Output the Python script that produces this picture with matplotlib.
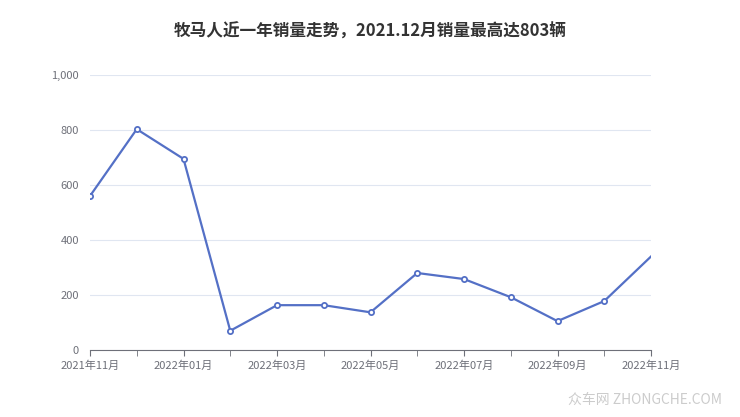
import matplotlib
matplotlib.use("Agg")
import matplotlib.pyplot as plt

plt.rcParams['font.family'] = ['Noto Sans CJK SC', 'DejaVu Sans']

months = ["2021年11月", "2021年12月", "2022年01月", "2022年02月", "2022年03月", "2022年04月",
          "2022年05月", "2022年06月", "2022年07月", "2022年08月", "2022年09月", "2022年10月", "2022年11月"]
sales = [560, 803, 695, 70, 163, 163, 137, 280, 258, 192, 105, 178, 340]

fig = plt.figure(figsize=(7.4, 4.17), dpi=100)
ax = fig.add_axes([90/740, 1-350/417, 561/740, 275/417])
x = list(range(len(months)))
ax.plot(x, sales, color="#5470c6", lw=1.6, zorder=3)
ax.scatter(x[:-1], sales[:-1], s=14, facecolor="white", edgecolor="#5470c6", lw=1.3, zorder=4)
ax.set_xlim(0, len(months)-1)
ax.set_ylim(0, 1000)
ax.set_yticks([0, 200, 400, 600, 800, 1000])
ax.set_yticklabels(["0", "200", "400", "600", "800", "1,000"])
ax.set_xticks(x[::2])
ax.set_xticklabels(months[::2])
ax.set_xticks(x, minor=True)
ax.grid(axis='y', color="#e0e6f1", lw=0.8)
for s in ["top", "right", "left"]:
    ax.spines[s].set_visible(False)
ax.spines["bottom"].set_color("#6e7079")
ax.tick_params(axis='y', length=0, labelsize=8, colors="#6e7079", pad=8)
ax.tick_params(axis='x', which='both', length=4, color="#6e7079", labelsize=8, labelcolor="#6e7079")
fig.text(0.5, 1-32/417, "牧马人近一年销量走势，2021.12月销量最高达803辆", ha='center', va='center',
         fontsize=12, fontweight='bold', color="#333333")
fig.text(0.975, 0.04, "众车网 ZHONGCHE.COM", ha='right', va='center', fontsize=10, color="#cccccc")
fig.savefig("out.png", dpi=100)
